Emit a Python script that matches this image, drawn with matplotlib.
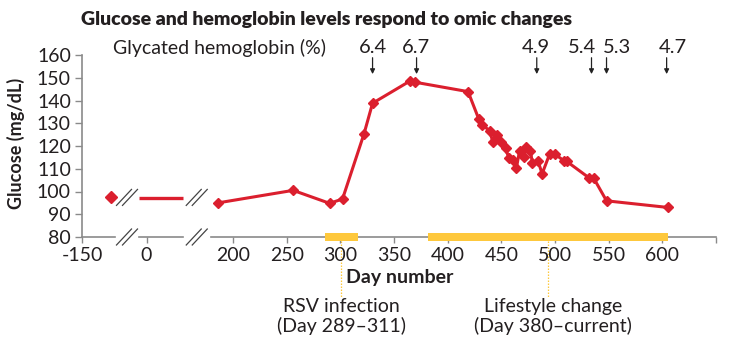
import numpy as np
import matplotlib
matplotlib.use("Agg")
import matplotlib.pyplot as plt

# ---- data ----
early_day = [-123]
early_glu = [97.7]

flat_day = [-7, 34]
flat_glu = [97.0, 97.0]

days = [186, 256, 290, 302, 322, 330, 365, 370, 419, 429, 432, 439, 442, 446,
        450, 454, 457, 461, 464, 467, 471, 473, 477, 479, 484, 488, 495, 500,
        508, 511, 532, 536, 548, 605]
glucose = [95.0, 100.5, 94.8, 96.7, 125.3, 138.8, 148.6, 148.0, 143.9, 131.8,
           129.3, 126.8, 121.9, 124.9, 121.9, 119.0, 114.6, 113.9, 110.3, 118.0,
           115.1, 119.5, 118.0, 112.4, 113.6, 107.8, 116.5, 116.4, 113.6, 113.2,
           105.9, 105.9, 95.9, 93.0]

hba1c_day = [330, 371, 483, 534, 548, 604]
hba1c_label_day = [330, 370, 482, 525, 558, 610]
hba1c_val = ["6.4", "6.7", "4.9", "5.4", "5.3", "4.7"]

rsv_bar = (286, 316)
life_bar = (382, 605)

xticks = [-150, 0, 200, 250, 300, 350, 400, 450, 500, 550, 600, 650]
xticklabels = ["-150", "0", "200", "250", "300", "350", "400", "450", "500",
               "550", "600", ""]

# broken x axis: day -> position along the axis
brk_day = np.array([-150, -119, -7, 34, 179, 650], float)
brk_pos = np.array([82, 115, 139, 183, 210.5, 716], float)


def fwd(x):
    x = np.asarray(x, float)
    y = np.interp(x, brk_day, brk_pos)
    lo = x < brk_day[0]
    hi = x > brk_day[-1]
    y = np.where(lo, brk_pos[0] + (x - brk_day[0]), y)
    y = np.where(hi, brk_pos[-1] + (x - brk_day[-1]), y)
    return y


def inv(p):
    p = np.asarray(p, float)
    x = np.interp(p, brk_pos, brk_day)
    lo = p < brk_pos[0]
    hi = p > brk_pos[-1]
    x = np.where(lo, brk_day[0] + (p - brk_pos[0]), x)
    x = np.where(hi, brk_day[-1] + (p - brk_pos[-1]), x)
    return x


RED = "#DB1F2E"
YEL = "#FEC83C"
GREY = "#8a8a8a"
TXT = "#231F20"
FS = 14

plt.rcParams['font.family'] = ['Lato', 'DejaVu Sans']

fig = plt.figure(figsize=(7.3, 3.5), dpi=100)
ax = fig.add_axes([82 / 730, 113 / 350, 634 / 730, 182 / 350])
ax.set_xscale('function', functions=(fwd, inv))
ax.set_xlim(-150, 650)
ax.set_ylim(80, 160)

# data
ax.plot(early_day, early_glu, ls='none', marker='D', ms=6, color=RED,
        zorder=4)
ax.plot(flat_day, flat_glu, color=RED, lw=2.4, solid_capstyle='butt', zorder=4)
ax.plot(days, glucose, color=RED, lw=2.2, marker='D', ms=5.2,
        solid_joinstyle='round', zorder=4)

# spines / ticks
for s in ['top', 'right', 'bottom']:
    ax.spines[s].set_visible(False)
ax.spines['left'].set_color(GREY)
ax.spines['left'].set_linewidth(1.2)
ax.set_yticks(range(80, 161, 10))
ax.set_xticks(xticks)
ax.set_xticklabels(xticklabels)
ax.xaxis.set_minor_locator(matplotlib.ticker.NullLocator())
ax.tick_params(axis='y', length=5, width=1, color=GREY, labelsize=FS,
               labelcolor=TXT, pad=3)
ax.tick_params(axis='x', length=4, width=1, color=GREY, labelsize=FS,
               labelcolor=TXT, pad=3)

# broken bottom axis line
segs = [(brk_day[0], brk_day[1]), (brk_day[2], brk_day[3]),
        (brk_day[4], brk_day[5])]
for a, b in segs:
    ax.plot([a, b], [80, 80], color=GREY, lw=1.2, clip_on=False, zorder=2)

# break marks
ypx = 182 / 80.0  # px per glucose unit
for g0, g1 in [(1, 2), (3, 4)]:
    c = (brk_pos[g0] + brk_pos[g1]) / 2
    for off in (-3, 3):
        for yc in (80, 97.4):
            xs = inv([c + off - 7.5, c + off + 7.5])
            ys = [yc - 8 / ypx, yc + 8 / ypx]
            ax.plot(xs, ys, color='#444444', lw=0.9, clip_on=False, zorder=5)

# event bars
bh = 8 / ypx
for a, b in (rsv_bar, life_bar):
    ax.barh(80, b - a, left=a, height=bh, color=YEL, clip_on=False, zorder=3)
    mid = (a + b) / 2
    ax.plot([mid, mid], [80 - bh / 2, 80 - 60 / ypx], color=YEL, lw=0.9,
            ls=(0, (1.2, 1.2)), clip_on=False, zorder=1)

ax.text((rsv_bar[0] + rsv_bar[1]) / 2, 80 - 61 / ypx,
        "RSV infection\n(Day 289\u2013311)", ha='center', va='top',
        fontsize=FS, color=TXT, linespacing=1.1, clip_on=False)
ax.text((life_bar[0] + life_bar[1]) / 2 + 5, 80 - 61 / ypx,
        "Lifestyle change\n(Day 380\u2013current)", ha='center', va='top',
        fontsize=FS, color=TXT, linespacing=1.1, clip_on=False)

# hemoglobin annotations
for d, ld, v in zip(hba1c_day, hba1c_label_day, hba1c_val):
    ax.annotate("", xy=(d, 151.6), xytext=(d, 158.8),
                arrowprops=dict(arrowstyle='-|>', color='#222222', lw=0.9,
                                mutation_scale=7, shrinkA=0, shrinkB=0),
                annotation_clip=False)
    ax.text(ld, 163.2, v, ha='center', va='center', fontsize=FS + 0.5,
            color=TXT, clip_on=False)
ax.text(31 / 634, 1.038, "Glycated hemoglobin (%)", transform=ax.transAxes,
        ha='left', va='center', fontsize=FS, color=TXT)

# labels
ax.text(318 / 634, -41 / 182, "Day number", transform=ax.transAxes,
        ha='center', va='center', fontsize=FS, fontweight='bold', color=TXT)
fig.text(16 / 730, 1 - 143 / 350, "Glucose (mg/dL)", rotation=90,
         ha='center', va='center', fontsize=13, fontweight='bold', color=TXT)
fig.text(81 / 730, 1 - 20 / 350,
         "Glucose and hemoglobin levels respond to omic changes",
         ha='left', va='center', fontsize=14, fontweight='heavy', color=TXT)

fig.savefig("out.png", dpi=100)
